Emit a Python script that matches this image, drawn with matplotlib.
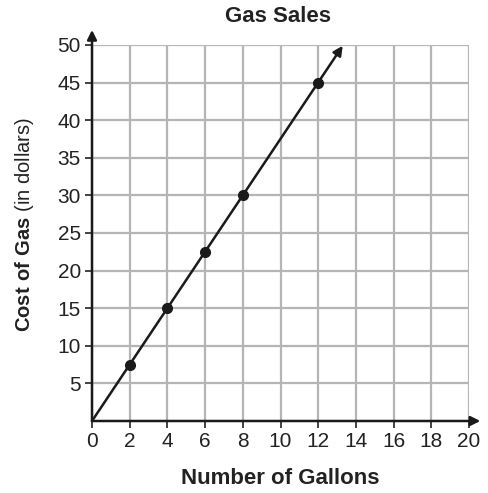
import numpy as np
import matplotlib.pyplot as plt

plt.rcParams['font.family'] = ['Liberation Sans', 'DejaVu Sans']
plt.rcParams['mathtext.fontset'] = 'custom'
plt.rcParams['mathtext.rm'] = 'Liberation Sans'
plt.rcParams['mathtext.bf'] = 'Liberation Sans:bold'

gallons = [2, 4, 6, 8, 12]
cost = [7.5, 15, 22.5, 30, 45]
line_x = [0, 13.3]
line_y = [0, 49.9]
xticks = list(range(0, 21, 2))
yticks = list(range(5, 51, 5))

W, H = 489, 493
fig = plt.figure(figsize=(W / 100, H / 100), dpi=100)
ax = fig.add_axes([92 / W, 1 - 421 / H, 377 / W, 376 / H])
ax.set_xlim(0, 20)
ax.set_ylim(0, 50)
ax.set_xticks(xticks)
ax.set_yticks(yticks)
ax.grid(True, color='#b5b5b5', linewidth=1.6)
ax.set_axisbelow(True)
for s in ax.spines.values():
    s.set_visible(False)
ax.tick_params(direction='out', length=5, width=1.2, color='#222222',
               labelsize=15, labelcolor='#222222', pad=3)

# axes with arrows
arrow = dict(arrowstyle='-|>', color='#1a1a1a', lw=1.8,
             mutation_scale=14, shrinkA=0, shrinkB=0)
ax.annotate('', xy=(20.6, 0), xytext=(0, 0), annotation_clip=False, arrowprops=arrow)
ax.annotate('', xy=(0, 52), xytext=(0, 0), annotation_clip=False, arrowprops=arrow)

# data line with arrow
ax.annotate('', xy=(line_x[1], line_y[1]), xytext=(line_x[0], line_y[0]),
            annotation_clip=False, arrowprops=arrow)
ax.plot(gallons, cost, 'o', color='#1a1a1a', markersize=7, clip_on=False, zorder=5)

fig.text(278 / W, 1 - 17 / H, 'Gas Sales', fontsize=16, fontweight='bold',
         color='#222222', ha='center', va='center')
fig.text(280 / W, 1 - 479 / H, 'Number of Gallons', fontsize=16, fontweight='bold',
         color='#222222', ha='center', va='center')
fig.text(25 / W, 1 - 224 / H, r'$\bf{Cost\ of\ Gas}$ (in dollars)', fontsize=14.5,
         color='#222222', ha='center', va='center', rotation=90)

fig.savefig('out.png', dpi=100)
